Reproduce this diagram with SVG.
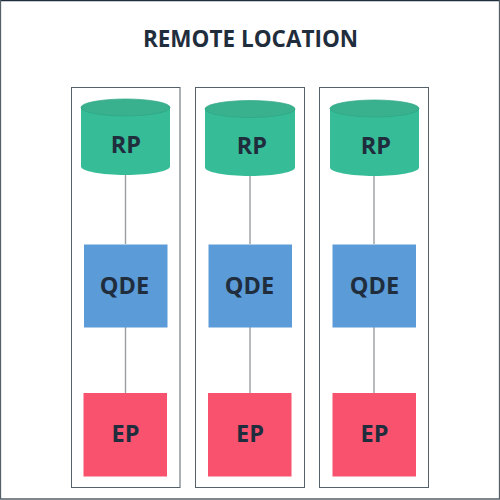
<svg xmlns="http://www.w3.org/2000/svg" width="500" height="500" viewBox="0 0 500 500">
<style>
.t{font-family:"Open Sans","Noto Sans",sans-serif;font-weight:700;fill:#1f2d3d;text-anchor:middle}
.n{font-size:23.500px}
.box{fill:none;stroke:#566069;stroke-width:1}
.cyl{fill:#36bd98}
.top{fill:#39b18e;stroke:#2ea583;stroke-width:.7}
.q{fill:#5b9bd8}
.e{fill:#f8526f}
.c{stroke:#9a9fa3;stroke-width:1.4;fill:none}
</style>
<rect width="500" height="500" fill="#fff"/>
<path d="M0 .5H500" stroke="#1f2d3d" stroke-width="1.500" fill="none"/>
<path d="M.5 0V499H499.500V0" fill="none" stroke="#566069" stroke-width="1.300"/>
<text class="t" x="250.500" y="46.500" font-size="22.500">REMOTE LOCATION</text>
<g id="containers">
<rect class="box" x="71.500" y="87.500" width="108.500" height="400"/>
<rect class="box" x="195.500" y="87.500" width="109" height="400"/>
<rect class="box" x="319.500" y="87.500" width="109" height="400"/>
</g>
<g id="connectors">
<path class="c" d="M125.500 175V244M125.500 327V393"/>
<path class="c" d="M250 176V244M250 327V393"/>
<path class="c" d="M374 176V244M374 327V393"/>
</g>
<g id="rp1"><path class="cyl" d="M81 107V166.500C81 171 101 175 125.500 175S170 171 170 166.500V107Z"/><ellipse class="top" cx="125.500" cy="107.500" rx="44.500" ry="8.500"/><text class="t n" x="126" y="153">RP</text></g>
<g id="rp2"><path class="cyl" d="M205 108V167.500C205 172 225 176 250 176S295 172 295 167.500V108Z"/><ellipse class="top" cx="250" cy="109" rx="45" ry="8.500"/><text class="t n" x="252" y="154">RP</text></g>
<g id="rp3"><path class="cyl" d="M330 108V167.500C330 172 350 176 374.500 176S419 172 419 167.500V108Z"/><ellipse class="top" cx="374.500" cy="108.500" rx="44.500" ry="8.500"/><text class="t n" x="376" y="154">RP</text></g>
<g id="qde1"><rect class="q" x="84" y="244.500" width="83.500" height="83"/><text class="t n" x="124.500" y="294">QDE</text></g>
<g id="qde2"><rect class="q" x="208.500" y="244.500" width="83.500" height="83"/><text class="t n" x="249.500" y="294">QDE</text></g>
<g id="qde3"><rect class="q" x="332.500" y="244.500" width="83.500" height="83"/><text class="t n" x="374.500" y="294">QDE</text></g>
<g id="ep1"><rect class="e" x="83.500" y="393" width="83.500" height="83.500"/><text class="t n" x="125.500" y="442">EP</text></g>
<g id="ep2"><rect class="e" x="208" y="393" width="83.500" height="83.500"/><text class="t n" x="250" y="442">EP</text></g>
<g id="ep3"><rect class="e" x="332.500" y="393" width="83.500" height="83.500"/><text class="t n" x="374.500" y="442">EP</text></g>
</svg>
